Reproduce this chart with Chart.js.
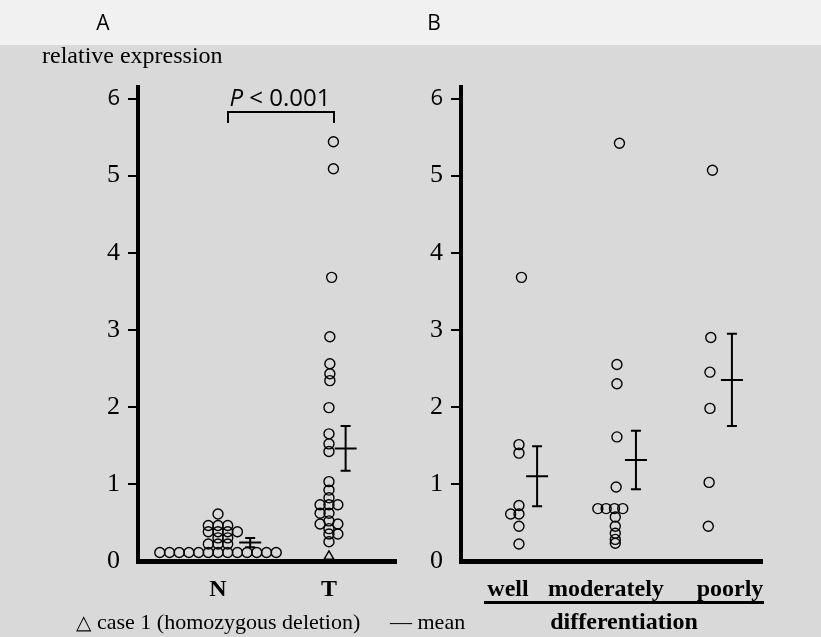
<!DOCTYPE html>
<html>
<head>
<meta charset="utf-8">
<script src="https://cdn.jsdelivr.net/npm/chart.js@4.4.0/dist/chart.umd.min.js"></script>
<style>
  html, body { margin: 0; padding: 0; }
  body { width: 821px; height: 637px; position: relative; overflow: hidden; background: #d9d9d9; }
  #topBand { position: absolute; left: 0; top: 0; width: 821px; height: 45px; background: #f1f1f1; }
  .txt { position: absolute; white-space: nowrap; line-height: 1; color: #000; transform: translateY(-50%); }
  .ctr { transform: translate(-50%, -50%); }
  .serif { font-family: "Liberation Serif", "Times New Roman", serif; }
  .sans { font-family: "Open Sans", sans-serif; }
  canvas { position: absolute; top: 0; }
  #chartA { left: 0; }
  #chartB { left: 420px; }
  #bracket { position: absolute; left: 227px; top: 111px; width: 104px; height: 10px; border: 2px solid #000; border-bottom: none; }
  #groupLine { position: absolute; left: 484px; top: 601px; width: 280px; border-top: 3px solid #000; }
</style>
</head>
<body>
<div id="topBand"></div>
<canvas id="chartA" width="420" height="637"></canvas>
<canvas id="chartB" width="401" height="637"></canvas>

<div class="txt ctr sans" style="left:103px; top:22px; font-size:21px;">A</div>
<div class="txt ctr sans" style="left:434px; top:22px; font-size:21px;">B</div>
<div class="txt serif" style="left:42px; top:55px; font-size:24px;">relative expression</div>
<div class="txt ctr sans" style="left:280px; top:97px; font-size:24px;"><i>P</i> &lt; 0.001</div>
<div id="bracket"></div>
<div id="groupLine"></div>
<div class="txt ctr serif" style="left:624px; top:621px; font-size:24px; font-weight:bold;">differentiation</div>
<div class="txt ctr serif" style="left:83px; top:622px; font-size:20px;">&#9651;</div>
<div class="txt serif" style="left:97px; top:622px; font-size:22px;">case 1 (homozygous deletion)</div>
<div class="txt serif" style="left:390px; top:622px; font-size:22px;">&mdash; mean</div>

<script>
// panel A: normal vs tumour
const groupsA = ["N", "T"];
const normalValues = [0.11, 0.11, 0.11, 0.11, 0.11, 0.11, 0.11, 0.11, 0.11, 0.11, 0.11, 0.11, 0.11,
  0.22, 0.22, 0.22, 0.30, 0.30, 0.38, 0.38, 0.38, 0.38, 0.46, 0.46, 0.46, 0.61];
const normalCols = [-6, -5, -4, -3, -2, -1, 0, 1, 2, 3, 4, 5, 6,
  -1, 0, 1, 0, 1, -1, 0, 1, 2, -1, 0, 1, 0];
const tumorValues = [5.44, 5.09, 3.68, 2.91, 2.56, 2.43, 2.34, 1.99, 1.65, 1.52, 1.42,
  1.03, 0.92, 0.82, 0.73, 0.73, 0.73, 0.62, 0.62, 0.52, 0.48, 0.48, 0.42, 0.35, 0.35, 0.25];
const tumorCols = [0.5, 0.5, 0.3, 0.1, 0.1, 0.1, 0.1, 0, 0, 0, 0,
  0, 0, 0, -1, 0, 1, -1, 0, 0, -1, 1, 0, 0, 1, 0];
const deletionValues = [0.06];
const meanA = [0.24, 1.46];
const semA = [0.06, 0.29];

// panel B: by differentiation
const groupsB = ["well", "moderately", "poorly"];
const wellValues = [3.68, 1.51, 1.40, 0.72, 0.61, 0.61, 0.45, 0.22];
const wellCols = [0.3, 0, 0, 0, -1, 0, 0, 0];
const moderateValues = [5.42, 2.55, 2.30, 1.61, 0.96, 0.68, 0.68, 0.68, 0.68, 0.57, 0.45, 0.36, 0.28, 0.23];
const moderateCols = [0.6, 0.3, 0.3, 0.3, 0.2, -2, -1, 0, 1, 0.1, 0.1, 0.1, 0.1, 0.1];
const poorValues = [5.07, 2.90, 2.45, 1.98, 1.02, 0.45];
const poorCols = [0.3, 0.1, 0, 0, -0.1, -0.2];
const meanB = [1.10, 1.31, 2.35];
const semB = [0.39, 0.38, 0.60];

const yTicks = [0, 1, 2, 3, 4, 5, 6];

function toPoints(values, cols, center, step) {
  return values.map((v, i) => ({ x: center + cols[i] * step, y: v }));
}

const meanBars = {
  id: "meanBars",
  afterDatasetsDraw(chart, args, opts) {
    const { ctx } = chart;
    const x = chart.scales.x;
    const y = chart.scales.y;
    ctx.save();
    ctx.strokeStyle = "#000";
    ctx.lineWidth = 2;
    opts.means.forEach((m, i) => {
      const px = x.getPixelForValue(i + 1 + opts.offsets[i]);
      const top = y.getPixelForValue(m + opts.sems[i]);
      const bot = y.getPixelForValue(m - opts.sems[i]);
      const mid = y.getPixelForValue(m);
      ctx.beginPath();
      ctx.moveTo(px, top); ctx.lineTo(px, bot);
      ctx.moveTo(px - 5, top); ctx.lineTo(px + 5, top);
      ctx.moveTo(px - 5, bot); ctx.lineTo(px + 5, bot);
      ctx.moveTo(px - 11, mid); ctx.lineTo(px + 11, mid);
      ctx.stroke();
    });
    ctx.restore();
  },
};

function circles(data) {
  return {
    data: data,
    pointStyle: "circle",
    pointRadius: 5,
    borderColor: "#000",
    borderWidth: 1.4,
    backgroundColor: "rgba(0,0,0,0)",
  };
}

function yAxis(width) {
  return {
    min: 0,
    max: 6.15,
    afterBuildTicks: (axis) => { axis.ticks = yTicks.map((v) => ({ value: v })); },
    afterFit: (axis) => { axis.width = width; },
    border: { display: true, color: "#000", width: 4 },
    grid: {
      display: true,
      drawOnChartArea: false,
      drawTicks: true,
      tickLength: 10,
      tickWidth: 2,
      lineWidth: 2,
      tickColor: (c) => (c.tick && c.tick.value === 0 ? "rgba(0,0,0,0)" : "#000"),
    },
    ticks: {
      color: "#000",
      padding: (c) => (c.tick && c.tick.value === 6 ? 3 : 8),
      font: (c) => (c.tick && c.tick.value === 6
        ? { family: "'Open Sans', sans-serif", size: 22 }
        : { family: "'Liberation Serif', serif", size: 26 }),
    },
  };
}

function xAxis(min, max, tickValues, labels) {
  return {
    type: "linear",
    min: min,
    max: max,
    afterBuildTicks: (axis) => { axis.ticks = tickValues.map((v) => ({ value: v })); },
    afterFit: (axis) => { axis.height = 40; },
    border: { display: true, color: "#000", width: 5 },
    grid: { display: false, drawTicks: false },
    ticks: {
      color: "#000",
      padding: 14,
      autoSkip: false,
      maxRotation: 0,
      font: { family: "'Liberation Serif', serif", size: 24, weight: "bold" },
      callback: (v, i) => labels[i],
    },
  };
}

Chart.defaults.animation = false;
Chart.defaults.devicePixelRatio = 1;

new Chart(document.getElementById("chartA"), {
  type: "scatter",
  data: {
    datasets: [
      circles(toPoints(normalValues, normalCols, 1, 0.0874)),
      circles(toPoints(tumorValues, tumorCols, 2, 0.08)),
      {
        data: deletionValues.map((v) => ({ x: 2, y: v })),
        pointStyle: "triangle",
        pointRadius: 5.5,
        borderColor: "#000",
        borderWidth: 1.4,
        backgroundColor: "rgba(0,0,0,0)",
      },
    ],
  },
  options: {
    responsive: false,
    layout: { padding: { left: 0, right: 24, top: 87, bottom: 36 } },
    plugins: {
      legend: { display: false },
      tooltip: { enabled: false },
      meanBars: { means: meanA, sems: semA, offsets: [0.29, 0.15] },
    },
    scales: {
      x: xAxis(0.279, 2.604, [1, 2], groupsA),
      y: yAxis(138),
    },
  },
  plugins: [meanBars],
});

new Chart(document.getElementById("chartB"), {
  type: "scatter",
  data: {
    datasets: [
      circles(toPoints(wellValues, wellCols, 1, 0.087)),
      circles(toPoints(moderateValues, moderateCols, 2, 0.087)),
      circles(toPoints(poorValues, poorCols, 3, 0.087)),
    ],
  },
  options: {
    responsive: false,
    layout: { padding: { left: 0, right: 59, top: 87, bottom: 36 } },
    plugins: {
      legend: { display: false },
      tooltip: { enabled: false },
      meanBars: { means: meanB, sems: semB, offsets: [0.19, 0.225, 0.23] },
    },
    scales: {
      x: xAxis(0.393, 3.545, [0.885, 1.91, 3.21], groupsB),
      y: yAxis(41),
    },
  },
  plugins: [meanBars],
});
</script>
</body>
</html>
